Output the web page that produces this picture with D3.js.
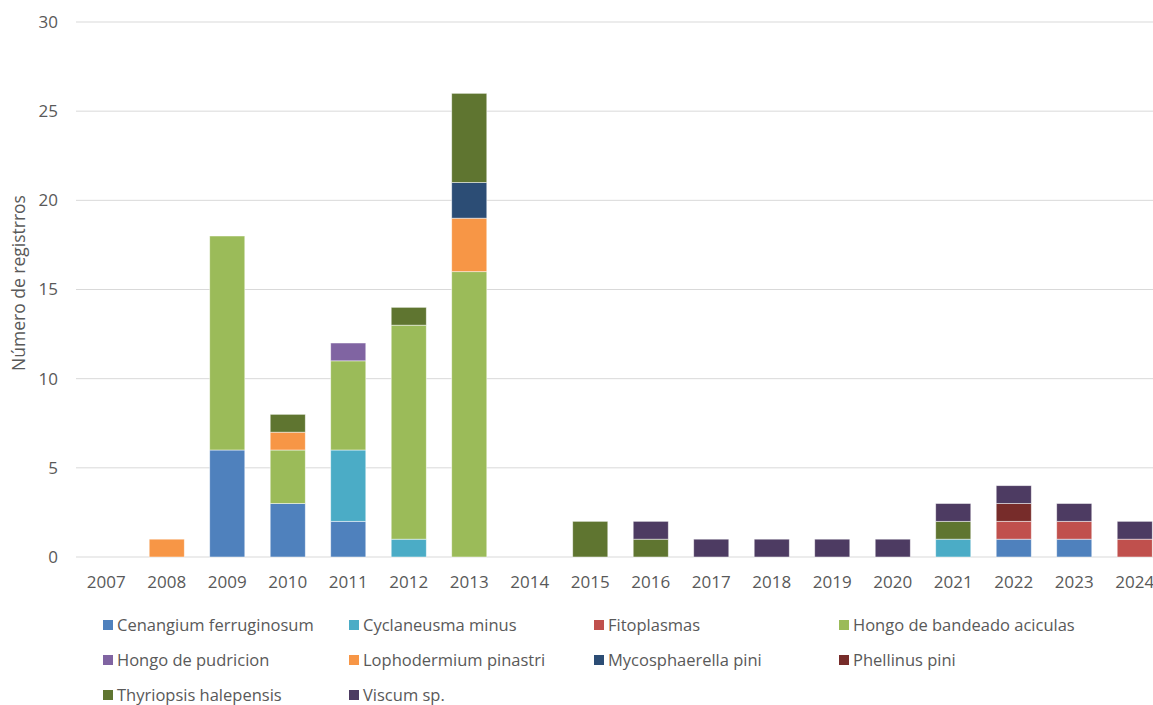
<!DOCTYPE html>
<html><head><meta charset="utf-8">
<script src="https://cdn.jsdelivr.net/npm/d3@7"></script>
<style>body{margin:0;background:#fff;} text{font-family:"Open Sans","Liberation Sans",sans-serif;fill:#595959;}</style>
</head><body><svg id="c" width="1153" height="705"></svg>
<script>
const years = ["2007","2008","2009","2010","2011","2012","2013","2014","2015","2016","2017","2018","2019","2020","2021","2022","2023","2024"];
const seriesNames = ["Cenangium ferruginosum","Cyclaneusma minus","Fitoplasmas","Hongo de bandeado aciculas","Hongo de pudricion","Lophodermium pinastri","Mycosphaerella pini","Phellinus pini","Thyriopsis halepensis","Viscum sp."];
const colors = ["#4F81BD","#4BACC6","#C0504D","#9BBB59","#8064A2","#F79646","#2C4D75","#772C2A","#5F7530","#4D3B62"];
const cenangium     = [0,0,6,3,2,0,0,0,0,0,0,0,0,0,0,1,1,0];
const cyclaneusma   = [0,0,0,0,4,1,0,0,0,0,0,0,0,0,1,0,0,0];
const fitoplasmas   = [0,0,0,0,0,0,0,0,0,0,0,0,0,0,0,1,1,1];
const hongoBandeado = [0,0,12,3,5,12,16,0,0,0,0,0,0,0,0,0,0,0];
const hongoPudricion= [0,0,0,0,1,0,0,0,0,0,0,0,0,0,0,0,0,0];
const lophodermium  = [0,1,0,1,0,0,3,0,0,0,0,0,0,0,0,0,0,0];
const mycosphaerella= [0,0,0,0,0,0,2,0,0,0,0,0,0,0,0,0,0,0];
const phellinus     = [0,0,0,0,0,0,0,0,0,0,0,0,0,0,0,1,0,0];
const thyriopsis    = [0,0,0,1,0,1,5,0,2,1,0,0,0,0,1,0,0,0];
const viscum        = [0,0,0,0,0,0,0,0,0,1,1,1,1,1,1,1,1,1];
const yTicks = [0,5,10,15,20,25,30];
const allSeries = [cenangium,cyclaneusma,fitoplasmas,hongoBandeado,hongoPudricion,lophodermium,mycosphaerella,phellinus,thyriopsis,viscum];

const table = years.map((y,i)=>{const o={year:y}; seriesNames.forEach((s,j)=>o[s]=allSeries[j][i]); return o;});
const stack = d3.stack().keys(seriesNames)(table);

const svg = d3.select("#c");
const x = d3.scaleBand().domain(years).range([76,1165]).paddingInner(0.42).paddingOuter(0.21);
const y = d3.scaleLinear().domain([0,30]).range([557,22]);

svg.append("g").selectAll("line").data(yTicks).join("line")
  .attr("x1",76).attr("x2",1165).attr("y1",d=>y(d)).attr("y2",d=>y(d))
  .attr("stroke","#D9D9D9").attr("stroke-width",1);

svg.append("g").selectAll("text").data(yTicks).join("text")
  .attr("x",58).attr("y",d=>y(d)).attr("dy","0.35em").attr("text-anchor","end")
  .style("font-size","17px").text(d=>d);

svg.append("g").selectAll("g").data(stack).join("g")
  .attr("fill",(d,i)=>colors[i])
  .selectAll("rect").data(d=>d.filter(p=>p[1]-p[0]>0)).join("rect")
  .attr("x",d=>x(d.data.year)).attr("width",x.bandwidth())
  .attr("y",d=>y(d[1])).attr("height",d=>y(d[0])-y(d[1]))
  .attr("stroke","#ffffff").attr("stroke-opacity",0.6).attr("stroke-width",0.8);

svg.append("g").selectAll("text").data(years).join("text")
  .attr("x",d=>x(d)+x.bandwidth()/2).attr("y",588).attr("text-anchor","middle")
  .style("font-size","17px").text(d=>d);

svg.append("text").attr("transform","translate(25,283) rotate(-90)").attr("text-anchor","middle")
  .style("font-size","17.5px").text("Número de registrros");

const colX = [103,349,594,839];
const rowY = [625,660,695];
const lg = svg.append("g").selectAll("g").data(seriesNames).join("g")
  .attr("transform",(d,i)=>`translate(${colX[i%4]},${rowY[Math.floor(i/4)]})`);
lg.append("rect").attr("x",0).attr("y",-5).attr("width",10).attr("height",10).attr("fill",(d,i)=>colors[i]);
lg.append("text").attr("x",14).attr("dy","0.35em").style("font-size","16.5px").text(d=>d);
</script></body></html>
